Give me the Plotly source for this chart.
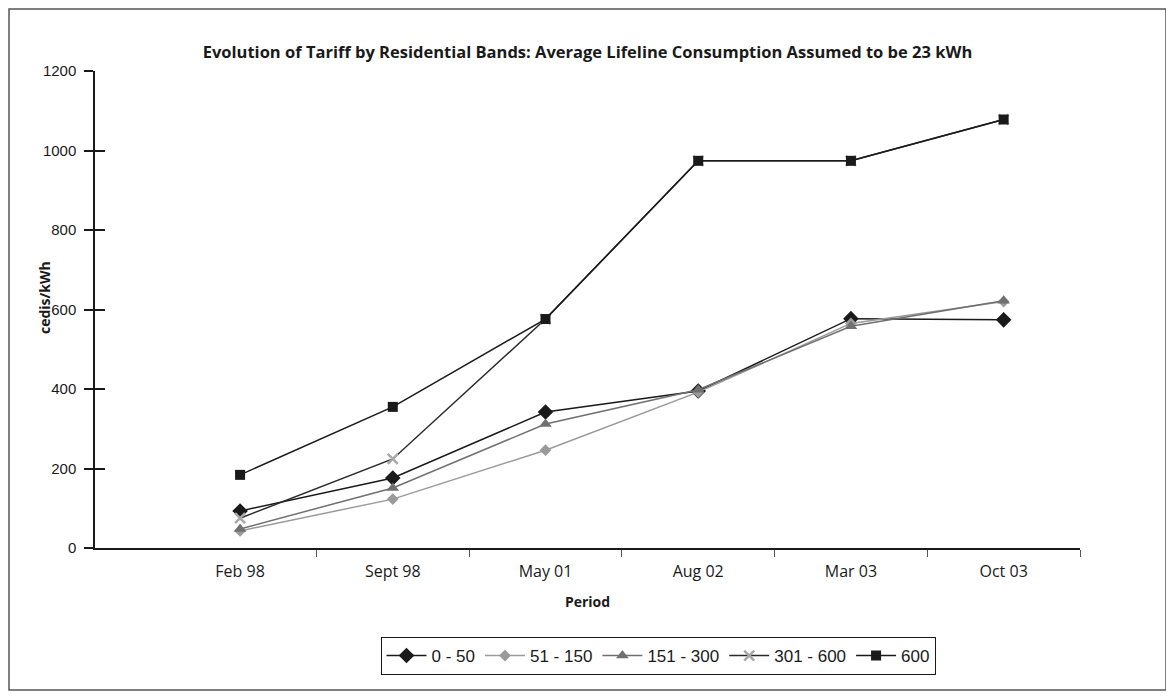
import plotly.graph_objects as go

periods = ["Feb 98", "Sept 98", "May 01", "Aug 02", "Mar 03", "Oct 03"]
band_0_50 = [93, 176, 342, 395, 577, 574]
band_51_150 = [43, 123, 246, 392, 565, 620]
band_151_300 = [48, 151, 312, 398, 558, 622]
band_301_600 = [75, 224, 576, 974, 974, 1078]
band_600 = [184, 355, 576, 974, 974, 1078]
y_ticks = [0, 200, 400, 600, 800, 1000, 1200]

x_idx = list(range(len(periods)))
boundaries = [i + 0.5 for i in x_idx]

series = [
    ("0 - 50", band_0_50, "#1a1a1a", "#1a1a1a", "diamond", 12),
    ("51 - 150", band_51_150, "#9a9a9a", "#9a9a9a", "diamond", 9),
    ("151 - 300", band_151_300, "#707070", "#707070", "triangle-up", 11),
    ("301 - 600", band_301_600, "#2a2a2a", "#a8a8a8", "x-thin-open", 10),
    ("600", band_600, "#1a1a1a", "#1a1a1a", "square", 10),
]

fig = go.Figure()
for name, vals, lc, mc, sym, sz in series:
    marker = dict(symbol=sym, size=sz, color=mc)
    if sym == "x-thin-open":
        marker["line"] = dict(color=mc, width=2.5)
    fig.add_trace(go.Scatter(
        x=x_idx, y=vals, name=name, mode="lines+markers",
        line=dict(color=lc, width=1.5), marker=marker,
    ))

# invisible helper trace for the overlaid y axis (inside tick marks)
fig.add_trace(go.Scatter(x=[x_idx[0]], y=[y_ticks[0]], yaxis="y2", mode="markers",
                         marker=dict(opacity=0), showlegend=False, hoverinfo="skip"))

font_main = "Open Sans, Lato, sans-serif"
font_narrow = "Liberation Sans Narrow, Arial Narrow, sans-serif"

W, H = 1166, 690
L, R, T, B = 87, 94, 63, 150
pw, ph = W - L - R, H - T - B

fig.update_layout(
    width=W, height=H,
    paper_bgcolor="white", plot_bgcolor="white",
    margin=dict(l=L, r=R, t=T, b=B),
    font=dict(family=font_main, size=15, color="#1a1a1a"),
    title=dict(text="<b>Evolution of Tariff by Residential Bands: Average Lifeline Consumption Assumed to be 23 kWh</b>",
               x=0.5, xref="paper", xanchor="center", y=1 - 44 / H, yanchor="middle",
               font=dict(family=font_main, size=16.5, color="#1a1a1a")),
    xaxis=dict(
        range=[-0.95, 5.5], tickmode="array", tickvals=x_idx, ticktext=periods,
        ticks="", showgrid=False, zeroline=False,
        showline=True, linecolor="#1a1a1a", linewidth=1.5,
        minor=dict(tickmode="array", tickvals=boundaries, ticks="outside",
                   ticklen=7, tickcolor="#555555", tickwidth=1, showgrid=False),
        title=dict(text="<b>Period</b>", font=dict(size=14), standoff=16),
        tickfont=dict(size=16),
        ticklabelstandoff=8,
    ),
    yaxis=dict(
        range=[0, 1200], tickmode="array", tickvals=y_ticks,
        ticks="outside", ticklen=9, tickcolor="#1a1a1a", tickwidth=1.5,
        showgrid=False, zeroline=False,
        showline=True, linecolor="#1a1a1a", linewidth=1.5,
        tickfont=dict(family=font_narrow, size=15),
        ticklabelstandoff=5,
    ),
    yaxis2=dict(
        range=[0, 1200], overlaying="y", side="left", tickmode="array", tickvals=y_ticks,
        ticks="inside", ticklen=10, tickcolor="#1a1a1a", tickwidth=1.5,
        showticklabels=False, showgrid=False, zeroline=False, showline=False,
    ),
    legend=dict(
        orientation="h", x=(658 - 8 - L) / pw, y=(T + ph - (656 - 8)) / ph,
        xanchor="center", yanchor="middle",
        bordercolor="#1a1a1a", borderwidth=1, bgcolor="white",
        font=dict(family=font_narrow, size=17, color="#1a1a1a"),
        itemwidth=40,
    ),
    showlegend=True,
    annotations=[dict(text="<b>cedis/kWh</b>", textangle=-90, showarrow=False,
                      xref="paper", yref="paper",
                      x=(44 - 8 - L) / pw, y=(T + ph - (298 - 8)) / ph,
                      xanchor="center", yanchor="middle",
                      font=dict(family=font_main, size=14, color="#1a1a1a"))],
    shapes=[dict(type="rect", xref="paper", yref="paper",
                 x0=(1 - L) / pw, x1=(1158 - L) / pw,
                 y0=(T + ph - 682) / ph, y1=(T + ph - 1) / ph,
                 line=dict(color="#555555", width=1.5), fillcolor="rgba(0,0,0,0)",
                 layer="below")],
)

fig.write_html("out.html")
